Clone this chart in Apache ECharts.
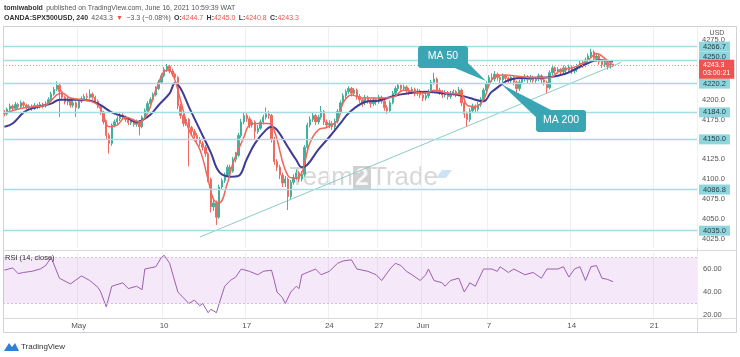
<!DOCTYPE html>
<html><head><meta charset="utf-8">
<script src="https://cdn.jsdelivr.net/npm/echarts@6/dist/echarts.min.js"></script>
<style>html,body{margin:0;padding:0;background:#fff}#c{width:740px;height:357px}</style>
</head><body><div id="c"></div>
<script>
// ---- 4h candles (OANDA:SPX500USD) ----
const opens = [
4184,4182,4188,4192,4189,4194,4191,4196,4193,4190,
4192,4189,4193,4191,4194,4192,4195,4200,4207,4213,
4218,4210,4203,4197,4200,4193,4196,4190,4198,4201,
4204,4203,4207,4203,4198,4192,4184,4172,4155,4145,
4168,4172,4176,4180,4178,4175,4171,4174,4169,4172,
4166,4178,4186,4195,4200,4206,4214,4222,4230,4238,
4242,4236,4232,4228,4192,4180,4170,4175,4165,4160,
4155,4150,4145,4140,4132,4100,4065,4070,4052,4090,
4098,4105,4115,4110,4125,4130,4155,4172,4180,4176,
4168,4172,4160,4164,4172,4178,4182,4180,4150,4122,
4115,4105,4095,4100,4078,4096,4102,4108,4100,4106,
4140,4168,4175,4180,4172,4178,4185,4172,4168,4170,
4166,4173,4185,4196,4205,4210,4214,4208,4212,4204,
4200,4196,4203,4198,4195,4200,4197,4203,4198,4190,
4186,4196,4208,4214,4218,4214,4216,4212,4210,4213,
4208,4211,4206,4202,4205,4210,4222,4226,4212,4210,
4206,4209,4204,4208,4210,4206,4212,4196,4182,4175,
4186,4192,4188,4194,4200,4212,4220,4228,4226,4232,
4228,4225,4230,4227,4224,4228,4222,4214,4222,4226,
4229,4225,4228,4224,4226,4230,4225,4222,4215,4234,
4240,4236,4238,4235,4240,4237,4241,4236,4238,4242,
4246,4244,4250,4255,4260,4252,4255,4248,4244,4247,
4242,4244.7];
const highs = [
4187,4190,4195,4194,4197,4196,4199,4198,4195,4194,
4194,4196,4195,4197,4196,4198,4203,4210,4216,4223,
4220,4212,4205,4203,4202,4199,4198,4200,4204,4207,
4208,4213,4209,4205,4200,4194,4186,4174,4158,4170,
4175,4179,4183,4183,4180,4177,4177,4176,4175,4174,
4180,4189,4198,4203,4209,4217,4225,4233,4241,4245,
4244,4239,4234,4230,4195,4183,4178,4177,4167,4163,
4158,4153,4148,4143,4134,4102,4076,4073,4093,4101,
4108,4118,4118,4128,4134,4158,4176,4184,4183,4179,
4175,4174,4168,4175,4181,4190,4186,4182,4153,4125,
4118,4108,4104,4102,4099,4106,4112,4110,4110,4143,
4171,4179,4184,4182,4181,4192,4187,4175,4174,4173,
4176,4188,4199,4208,4213,4217,4216,4215,4214,4207,
4202,4206,4205,4201,4203,4202,4206,4205,4200,4193,
4199,4211,4217,4220,4219,4219,4218,4215,4216,4215,
4214,4213,4208,4208,4213,4225,4234,4228,4215,4212,
4212,4211,4211,4213,4212,4216,4214,4198,4185,4189,
4195,4194,4197,4203,4215,4223,4231,4233,4236,4234,
4231,4233,4232,4229,4231,4230,4224,4225,4229,4232,
4231,4231,4230,4229,4233,4232,4227,4224,4237,4244,
4242,4241,4240,4243,4242,4244,4243,4241,4245,4249,
4250,4253,4258,4264,4262,4258,4257,4250,4250,4249,
4247,4245.0];
const lows = [
4179,4180,4186,4186,4187,4188,4189,4190,4187,4187,
4186,4187,4188,4189,4189,4190,4193,4198,4205,4211,
4178,4200,4194,4193,4190,4190,4178,4188,4196,4199,
4200,4201,4200,4195,4189,4181,4169,4150,4132,4142,
4165,4169,4173,4175,4172,4168,4168,4166,4166,4155,
4164,4176,4184,4192,4198,4204,4212,4220,4228,4235,
4233,4229,4225,4188,4176,4166,4167,4116,4156,4151,
4146,4141,4136,4128,4096,4058,4060,4042,4050,4087,
4095,4103,4106,4108,4121,4128,4152,4169,4172,4164,
4165,4150,4157,4162,4169,4175,4176,4146,4118,4110,
4100,4090,4090,4061,4075,4093,4099,4096,4097,4103,
4137,4165,4172,4168,4169,4175,4168,4164,4164,4162,
4163,4170,4182,4193,4202,4207,4204,4205,4200,4196,
4191,4193,4195,4190,4192,4193,4195,4195,4186,4182,
4184,4194,4205,4211,4210,4211,4209,4206,4207,4204,
4205,4202,4198,4199,4202,4208,4219,4209,4206,4202,
4203,4200,4201,4205,4203,4204,4192,4177,4166,4172,
4183,4184,4185,4191,4198,4209,4217,4222,4223,4224,
4221,4222,4223,4220,4221,4218,4206,4211,4219,4223,
4221,4222,4220,4221,4223,4221,4218,4208,4213,4231,
4232,4233,4231,4232,4233,4234,4232,4233,4235,4239,
4240,4241,4247,4252,4249,4248,4244,4240,4241,4238,
4239,4240.8];
const closes = [
4182,4188,4192,4189,4194,4191,4196,4193,4190,4192,
4189,4193,4191,4194,4192,4195,4200,4207,4213,4218,
4210,4203,4197,4200,4193,4196,4190,4198,4201,4204,
4203,4207,4203,4198,4192,4184,4172,4155,4145,4168,
4172,4176,4180,4178,4175,4171,4174,4169,4172,4166,
4178,4186,4195,4200,4206,4214,4222,4230,4238,4242,
4236,4232,4228,4192,4180,4170,4175,4165,4160,4155,
4150,4145,4140,4132,4100,4065,4070,4052,4090,4098,
4105,4115,4110,4125,4130,4155,4172,4180,4176,4168,
4172,4160,4164,4172,4178,4182,4180,4150,4122,4115,
4105,4095,4100,4078,4096,4102,4108,4100,4106,4140,
4168,4175,4180,4172,4178,4185,4172,4168,4170,4166,
4173,4185,4196,4205,4210,4214,4208,4212,4204,4200,
4196,4203,4198,4195,4200,4197,4203,4198,4190,4186,
4196,4208,4214,4218,4214,4216,4212,4210,4213,4208,
4211,4206,4202,4205,4210,4222,4226,4212,4210,4206,
4209,4204,4208,4210,4206,4212,4196,4182,4175,4186,
4192,4188,4194,4200,4212,4220,4228,4226,4232,4228,
4225,4230,4227,4224,4228,4222,4214,4222,4226,4229,
4225,4228,4224,4226,4230,4225,4222,4215,4234,4240,
4236,4238,4235,4240,4237,4241,4236,4238,4242,4246,
4244,4250,4255,4260,4252,4255,4248,4244,4247,4242,
4244.7,4243.3];

// moving averages (bar index, price)
const maFastIdx = [0,6,10,15,19,21,24,30,34,36,38,41,44,49,52,55,59,61,64,67,71,74,76,78,81,83,87,89,92,96,98,103,106,108,109,111,114,117,121,123,126,130,136,141,145,153,156,161,166,168,171,174,177,181,192,198,202,207,212,215,218,221];
const maFastVal = [4183,4189,4191,4193,4206,4208,4202,4199,4193,4180,4166,4168,4178,4172,4183,4212,4237,4233,4199,4162,4137,4099,4074,4070,4095,4120,4153,4168,4170,4170,4161,4104,4101,4108,4120,4146,4162,4165,4174,4196,4206,4202,4202,4203,4212,4208,4212,4208,4206,4193,4191,4200,4225,4231,4228,4228,4237,4241,4250,4258,4252,4243];
const maSlowIdx = [0,3,7,10,17,20,26,31,35,39,44,48,50,53,56,60,62,64,67,71,75,78,82,85,88,91,95,97,99,103,106,108,110,114,118,122,125,131,136,143,153,159,165,169,174,177,186,197,204,210,216,221];
const maSlowVal = [4166,4170,4184,4189,4195,4200,4200,4199,4193,4184,4178,4172,4174,4181,4193,4208,4221,4214,4191,4162,4133,4109,4103,4104,4125,4145,4162,4166,4162,4140,4124,4115,4118,4137,4153,4170,4183,4197,4199,4206,4210,4208,4206,4202,4198,4210,4227,4228,4233,4243,4250,4248];

// RSI (14, close)
const rsiIdx = [0,3,5,7,10,13,15,17,20,24,28,31,34,35,37,39,43,45,48,50,51,55,57,58,60,63,65,67,69,71,72,74,75,77,78,80,82,84,86,89,92,94,97,98,99,101,102,104,106,107,108,111,113,115,118,121,123,126,128,132,135,137,140,142,144,146,148,151,153,154,156,159,160,162,165,167,169,171,172,174,177,179,180,183,185,189,192,195,197,201,203,205,207,209,211,213,215,217,219,221];
const rsiVal = [59,61,56,57,58,60,63,70,52,47,54,50,44,40,27,45,48,43,45,42,60,62,70,72,65,40,35,30,33,28,30,22,25,22,30,45,50,53,60,58,55,58,59,50,40,35,30,40,45,43,55,58,60,55,58,65,67,68,60,58,55,50,60,65,63,58,55,50,55,60,50,48,45,50,52,40,48,45,50,60,60,58,62,57,60,55,57,52,60,60,62,53,60,62,50,62,63,52,51,49];

// horizontal levels, trend line, axis ticks
const levelValues = [4266.7, 4250.0, 4220.2, 4184.0, 4150.0, 4086.8, 4035.0];
const lastPrice = 4243.3;
const trendIdx = [71, 224];
const trendVal = [4027, 4247];
const priceTicks = [4025, 4050, 4075, 4100, 4125, 4175, 4200, 4275];
const rsiTicks = [20, 40, 60];
const xTickIdx = [27, 58, 88, 118, 136, 152, 176, 206, 236];
const xTickText = ['May', '10', '17', '24', '27', 'Jun', '7', '14', '21'];
const slotCount = 252;

const FONT = '"Liberation Sans", Arial, sans-serif';
const cats = Array.from({length: slotCount}, (_, i) => String(i));
const candleData = opens.map((o, i) => [o, closes[i], lows[i], highs[i]]);
const pairs = (a, b) => a.map((x, i) => [x, b[i]]);
const tickMap = {};
xTickIdx.forEach((k, i) => tickMap[k] = xTickText[i]);
const isTick = (idx) => tickMap[idx] !== undefined;

const levelLines = levelValues.map(v => {
  const it = {yAxis: v};
  if (v === 4250.0) it.label = {offset: [0, -3]};
  return it;
});
levelLines.push({
  yAxis: lastPrice,
  lineStyle: {color: '#f19a93', type: [1, 2], width: 1},
  label: {formatter: '4243.3\n03:00:21', backgroundColor: '#ef5350', color: '#fff', padding: [2, 4, 1, 4], lineHeight: 8, offset: [0, 4], fontSize: 7}
});

const chart = echarts.init(document.getElementById('c'), null, {renderer: 'canvas'});
chart.setOption({
  animation: false,
  backgroundColor: '#ffffff',
  textStyle: {fontFamily: FONT},
  grid: [
    {left: 3, right: 43, top: 27, height: 221},
    {left: 3, right: 43, top: 252, height: 66}
  ],
  xAxis: [
    {type: 'category', gridIndex: 0, data: cats, boundaryGap: true,
     axisLine: {show: false}, axisTick: {show: false}, axisLabel: {show: false},
     splitLine: {show: true, interval: (i) => isTick(i), lineStyle: {color: '#eef0f4', width: 1}}},
    {type: 'category', gridIndex: 1, data: cats, boundaryGap: true,
     axisLine: {show: false}, axisTick: {show: false},
     axisLabel: {show: true, interval: (i) => isTick(i), formatter: (v, i) => tickMap[i] || '', color: '#555', fontSize: 8, margin: 4},
     splitLine: {show: true, interval: (i) => isTick(i), lineStyle: {color: '#eef0f4', width: 1}}}
  ],
  yAxis: [
    {type: 'value', gridIndex: 0, position: 'right', min: 4013.2, max: 4291.5, scale: true,
     axisLine: {show: false}, axisTick: {show: false}, splitLine: {show: false},
     axisLabel: {customValues: priceTicks, formatter: (v) => v.toFixed(1), color: '#555', fontSize: 7.5, margin: 5}},
    {type: 'value', gridIndex: 1, position: 'right', min: 17.4, max: 74.8,
     axisLine: {show: false}, axisTick: {show: false}, splitLine: {show: false},
     axisLabel: {customValues: rsiTicks, formatter: (v) => v.toFixed(2), color: '#555', fontSize: 7.5, margin: 6}}
  ],
  series: [
    {type: 'line', xAxisIndex: 0, yAxisIndex: 0, data: pairs(trendIdx, trendVal), symbol: 'none', silent: true,
     lineStyle: {color: '#8ccbc6', width: 1}, z: 1},
    {type: 'candlestick', xAxisIndex: 0, yAxisIndex: 0, data: candleData, barWidth: '68%',
     itemStyle: {color: '#3fb19c', color0: '#ef6b61', borderColor: '#3fb19c', borderColor0: '#ef6b61', borderWidth: 1},
     markLine: {silent: true, symbol: ['none', 'none'], animation: false,
       lineStyle: {color: '#a6dce3', width: 1.4, type: 'solid'},
       label: {show: true, position: 'end', distance: 2, formatter: (p) => p.value.toFixed(1), backgroundColor: '#8fd5de', color: '#1d3c42', fontSize: 7.5, padding: [1, 4]},
       data: levelLines}},
    {type: 'line', xAxisIndex: 0, yAxisIndex: 0, data: pairs(maSlowIdx, maSlowVal), symbol: 'none', smooth: 0.4, silent: true,
     lineStyle: {color: '#3f3c93', width: 2}, z: 3},
    {type: 'line', xAxisIndex: 0, yAxisIndex: 0, data: pairs(maFastIdx, maFastVal), symbol: 'none', smooth: 0.4, silent: true,
     lineStyle: {color: '#f0675c', width: 1.5}, z: 4},
    {type: 'line', xAxisIndex: 1, yAxisIndex: 1, data: pairs(rsiIdx, rsiVal), symbol: 'none', silent: true,
     lineStyle: {color: '#9c5fb2', width: 1},
     markArea: {silent: true, itemStyle: {color: 'rgba(196,120,214,0.17)'}, data: [[{yAxis: 70}, {yAxis: 30}]]},
     markLine: {silent: true, symbol: ['none', 'none'], label: {show: false},
       lineStyle: {color: '#d6bfe0', type: [2, 2], width: 1}, data: [{yAxis: 70}, {yAxis: 30}]}}
  ],
  graphic: [
    // frame
    {type: 'rect', z: 0, shape: {x: 3.5, y: 26.5, width: 733, height: 306}, style: {fill: 'none', stroke: '#cfd2d8', lineWidth: 1}, silent: true},
    {type: 'line', z: 0, shape: {x1: 697.5, y1: 26.5, x2: 697.5, y2: 332.5}, style: {stroke: '#d6d9de', lineWidth: 1}, silent: true},
    {type: 'line', z: 0, shape: {x1: 3.5, y1: 250.5, x2: 736.5, y2: 250.5}, style: {stroke: '#d6d9de', lineWidth: 1}, silent: true},
    {type: 'line', z: 0, shape: {x1: 3.5, y1: 318.5, x2: 736.5, y2: 318.5}, style: {stroke: '#d6d9de', lineWidth: 1}, silent: true},
    // header
    {type: 'text', left: 4, top: 2, z: 10, style: {text: '{b|tomiwabold} {n|published on TradingView.com, June 16, 2021 10:59:39 WAT}',
      rich: {b: {fill: '#333', fontWeight: 'bold', fontSize: 7, fontFamily: FONT}, n: {fill: '#555', fontSize: 7, fontFamily: FONT}}}},
    {type: 'text', left: 4, top: 12, z: 10, style: {text: '{b|OANDA:SPX500USD, 240} {n|4243.3} {r|▼} {n|−3.3 (−0.08%)} {b|O:}{r|4244.7} {b|H:}{r|4245.0} {b|L:}{r|4240.8} {b|C:}{r|4243.3}',
      rich: {b: {fill: '#333', fontWeight: 'bold', fontSize: 7, fontFamily: FONT}, n: {fill: '#555', fontSize: 7, fontFamily: FONT}, r: {fill: '#ef5350', fontSize: 7, fontFamily: FONT}}}},
    {type: 'text', x: 717, y: 30, z: 10, style: {text: 'USD', fill: '#555', fontSize: 7, fontFamily: FONT, align: 'center'}},
    {type: 'text', x: 5, y: 254, z: 10, style: {text: 'RSI (14, close)', fill: '#333', fontSize: 7.5, fontFamily: FONT}},
    // watermark
    {type: 'group', z: 0, silent: true, children: [
      {type: 'text', x: 353, y: 165, style: {text: 'Team', fill: 'rgba(150,150,150,0.38)', fontSize: 26, fontFamily: FONT, align: 'right'}},
      {type: 'rect', shape: {x: 353, y: 166, width: 18, height: 24}, style: {fill: 'rgba(120,120,120,0.35)'}},
      {type: 'text', x: 362, y: 166, style: {text: '2', fill: 'rgba(255,255,255,0.85)', fontSize: 24, fontFamily: FONT, align: 'center', fontWeight: 'bold'}},
      {type: 'text', x: 371, y: 165, style: {text: 'Trade', fill: 'rgba(150,150,150,0.38)', fontSize: 26, fontFamily: FONT}},
      {type: 'polygon', shape: {points: [[436, 178], [442, 170], [452, 170], [446, 178]]}, style: {fill: 'rgba(90,160,220,0.3)'}}
    ]},
    // callouts
    {type: 'polygon', z: 20, shape: {points: [[450, 66], [464, 59], [486, 81]]}, style: {fill: '#3aa6b4'}},
    {type: 'rect', z: 20, shape: {x: 418, y: 46, width: 50, height: 22, r: 3}, style: {fill: '#3aa6b4'}},
    {type: 'text', z: 21, x: 443, y: 51, style: {text: 'MA 50', fill: '#fff', fontSize: 10.5, fontFamily: FONT, align: 'center'}},
    {type: 'polygon', z: 20, shape: {points: [[501, 84], [538, 119], [551, 110]]}, style: {fill: '#3aa6b4'}},
    {type: 'rect', z: 20, shape: {x: 536, y: 110, width: 50, height: 22, r: 3}, style: {fill: '#3aa6b4'}},
    {type: 'text', z: 21, x: 561, y: 115, style: {text: 'MA 200', fill: '#fff', fontSize: 10.5, fontFamily: FONT, align: 'center'}},
    // TradingView logo
    {type: 'polygon', z: 10, shape: {points: [[4, 351], [9, 343], [12, 347], [15, 343], [19, 351]]}, style: {fill: '#2d7fd8'}},
    {type: 'text', z: 10, x: 21, y: 343, style: {text: 'TradingView', fill: '#333', fontSize: 8, fontFamily: FONT}}
  ]
});
</script>
</body></html>
